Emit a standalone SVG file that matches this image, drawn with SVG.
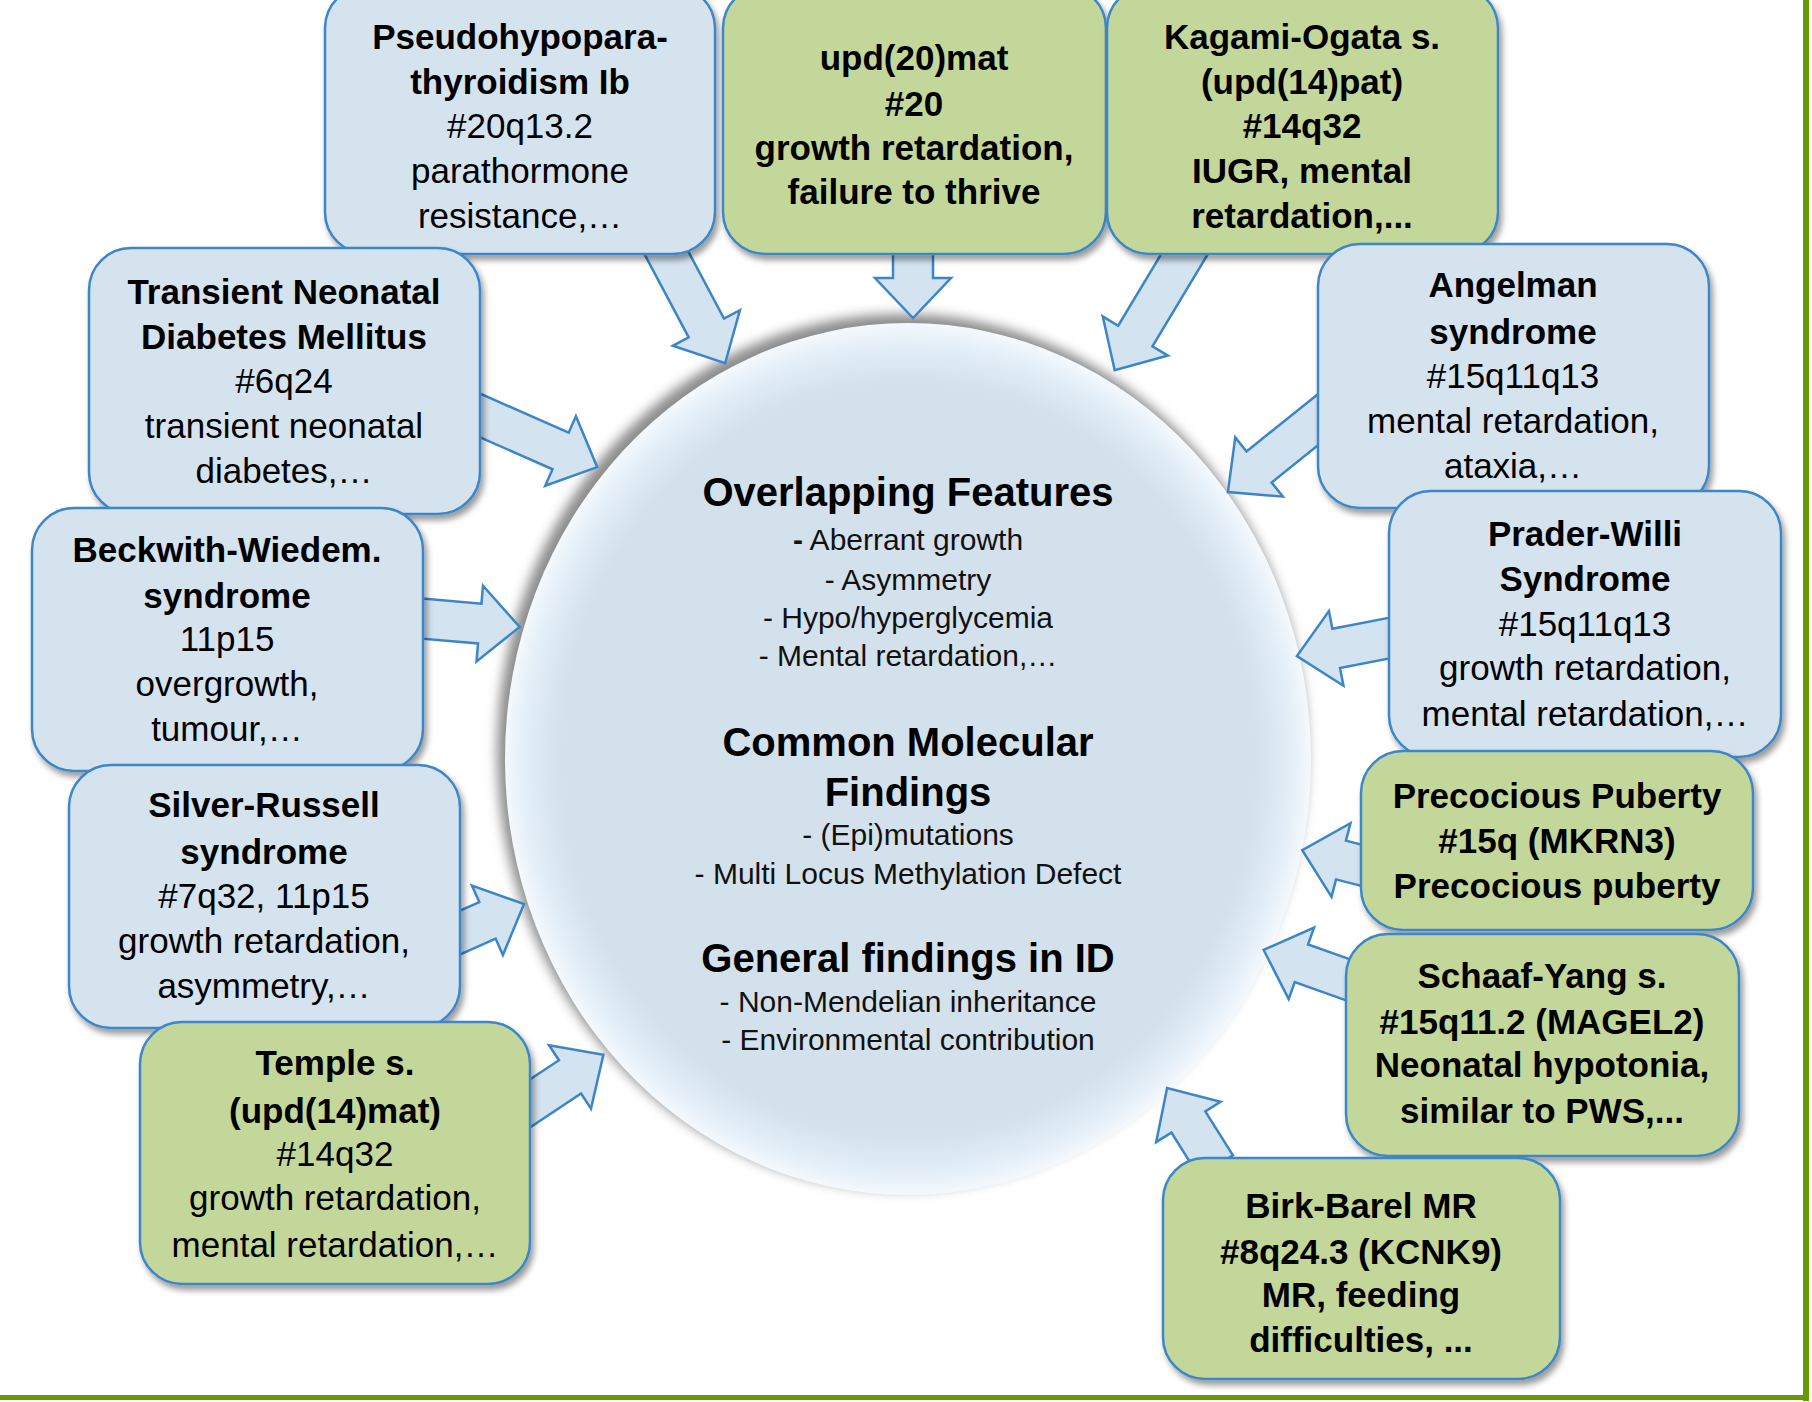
<svg xmlns="http://www.w3.org/2000/svg" width="1812" height="1402" viewBox="0 0 1812 1402">
<defs>
<style>
text{font-family:"Liberation Sans",Arial,sans-serif;font-size:35px;text-anchor:middle;fill:#000}
.b{font-weight:bold}
.ct{font-size:40px;font-weight:bold}
.cs{font-size:30px;fill:#111}
.nb{fill:#d5e3ef;stroke:#3c86c8;stroke-width:2.5}
.ng{fill:#c4d79b;stroke:#3c86c8;stroke-width:2.5}
.arr{fill:#d4e3f0;stroke:#3c86c8;stroke-width:2.5;stroke-linejoin:miter}
</style>
<filter id="sh" x="-10%" y="-10%" width="130%" height="130%">
<feGaussianBlur in="SourceAlpha" stdDeviation="3"/>
<feOffset dx="3" dy="5"/>
<feComponentTransfer><feFuncA type="linear" slope="0.4"/></feComponentTransfer>
<feMerge><feMergeNode/><feMergeNode in="SourceGraphic"/></feMerge>
</filter>
<filter id="cblur" x="-20%" y="-20%" width="140%" height="140%"><feGaussianBlur stdDeviation="6"/></filter>
<radialGradient id="cgrad" cx="50%" cy="50%" r="50%">
<stop offset="0" stop-color="#d3e1ec"/>
<stop offset="0.86" stop-color="#d3e1ec"/>
<stop offset="0.95" stop-color="#e3eef7"/>
<stop offset="1" stop-color="#f4f9fd"/>
</radialGradient>
</defs>
<rect width="1812" height="1402" fill="#fff"/>
<rect x="1803" y="0" width="6" height="1401" fill="#669900"/>
<rect x="0" y="1395" width="1809" height="5" fill="#669900"/>

<g id="center">
<ellipse cx="902" cy="752" rx="405" ry="438" fill="#666" opacity="0.75" filter="url(#cblur)"/>
<ellipse cx="908" cy="759" rx="403" ry="436" fill="url(#cgrad)"/>
<text class="ct" x="908" y="506">Overlapping Features</text>
<text class="cs" x="908" y="550"><tspan font-weight="bold">-</tspan> Aberrant growth</text>
<text class="cs" x="908" y="590">- Asymmetry</text>
<text class="cs" x="908" y="628">- Hypo/hyperglycemia</text>
<text class="cs" x="908" y="666">- Mental retardation,…</text>
<text class="ct" x="908" y="756">Common Molecular</text>
<text class="ct" x="908" y="806">Findings</text>
<text class="cs" x="908" y="845">- (Epi)mutations</text>
<text class="cs" x="908" y="884">- Multi Locus Methylation Defect</text>
<text class="ct" x="908" y="972">General findings in ID</text>
<text class="cs" x="908" y="1012">- Non-Mendelian inheritance</text>
<text class="cs" x="908" y="1050">- Environmental contribution</text>
</g>

<g id="connectors">
<path class="arr" transform="translate(658,237) rotate(62)" d="M0,-20 H103 V-38 L143,0 L103,38 V20 H0 Z"/>
<path class="arr" transform="translate(913,240) rotate(90)" d="M0,-20 H38 V-38 L78,0 L38,38 V20 H0 Z"/>
<path class="arr" transform="translate(1193,240) rotate(121)" d="M0,-20 H112 V-38 L152,0 L112,38 V20 H0 Z"/>
<path class="arr" transform="translate(470,411) rotate(23.8)" d="M0,-20 H99 V-38 L139,0 L99,38 V20 H0 Z"/>
<path class="arr" transform="translate(1330,410) rotate(141.2)" d="M0,-20 H91 V-38 L131,0 L91,38 V20 H0 Z"/>
<path class="arr" transform="translate(415,618) rotate(4.9)" d="M0,-20 H65 V-38 L105,0 L65,38 V20 H0 Z"/>
<path class="arr" transform="translate(450,937) rotate(-24)" d="M0,-20 H41 V-38 L81,0 L41,38 V20 H0 Z"/>
<path class="arr" transform="translate(520,1110) rotate(-33.5)" d="M0,-20 H60 V-38 L100,0 L60,38 V20 H0 Z"/>
<path class="arr" transform="translate(1400,636) rotate(169)" d="M0,-20 H65 V-38 L105,0 L65,38 V20 H0 Z"/>
<path class="arr" transform="translate(1372,868) rotate(-165.6)" d="M0,-20 H32 V-38 L72,0 L32,38 V20 H0 Z"/>
<path class="arr" transform="translate(1357,983) rotate(-160.5)" d="M0,-20 H59 V-38 L99,0 L59,38 V20 H0 Z"/>
<path class="arr" transform="translate(1216,1166) rotate(-122.1)" d="M0,-20 H52 V-38 L92,0 L52,38 V20 H0 Z"/>
</g>

<g id="pseudohypoparathyroidism">
<rect class="nb" x="325" y="-14" width="390" height="268" rx="42" filter="url(#sh)"/>
<text class="b" x="520" y="49">Pseudohypopara-</text>
<text class="b" x="520" y="94">thyroidism Ib</text>
<text x="520" y="138">#20q13.2</text>
<text x="520" y="183">parathormone</text>
<text x="520" y="228">resistance,…</text>
</g>
<g id="upd20mat">
<rect class="ng" x="723" y="-14" width="383" height="268" rx="42" filter="url(#sh)"/>
<text class="b" x="914" y="70">upd(20)mat</text>
<text class="b" x="914" y="116">#20</text>
<text class="b" x="914" y="160">growth retardation,</text>
<text class="b" x="914" y="204">failure to thrive</text>
</g>
<g id="kagami-ogata">
<rect class="ng" x="1107" y="-14" width="391" height="268" rx="42" filter="url(#sh)"/>
<text class="b" x="1302" y="49">Kagami-Ogata s.</text>
<text class="b" x="1302" y="94">(upd(14)pat)</text>
<text class="b" x="1302" y="138">#14q32</text>
<text class="b" x="1302" y="183">IUGR, mental</text>
<text class="b" x="1302" y="228">retardation,...</text>
</g>
<g id="transient-ndm">
<rect class="nb" x="89" y="248" width="391" height="266" rx="42" filter="url(#sh)"/>
<text class="b" x="284" y="304">Transient Neonatal</text>
<text class="b" x="284" y="349">Diabetes Mellitus</text>
<text x="284" y="393">#6q24</text>
<text x="284" y="438">transient neonatal</text>
<text x="284" y="483">diabetes,…</text>
</g>
<g id="angelman">
<rect class="nb" x="1318" y="244" width="391" height="264" rx="42" filter="url(#sh)"/>
<text class="b" x="1513" y="297">Angelman</text>
<text class="b" x="1513" y="344">syndrome</text>
<text x="1513" y="388">#15q11q13</text>
<text x="1513" y="433">mental retardation,</text>
<text x="1513" y="478">ataxia,…</text>
</g>
<g id="beckwith-wiedemann">
<rect class="nb" x="32" y="508" width="391" height="263" rx="42" filter="url(#sh)"/>
<text class="b" x="227" y="562">Beckwith-Wiedem.</text>
<text class="b" x="227" y="608">syndrome</text>
<text x="227" y="651">11p15</text>
<text x="227" y="696">overgrowth,</text>
<text x="227" y="741">tumour,…</text>
</g>
<g id="prader-willi">
<rect class="nb" x="1389" y="491" width="392" height="266" rx="42" filter="url(#sh)"/>
<text class="b" x="1585" y="546">Prader-Willi</text>
<text class="b" x="1585" y="591">Syndrome</text>
<text x="1585" y="636">#15q11q13</text>
<text x="1585" y="680">growth retardation,</text>
<text x="1585" y="726">mental retardation,…</text>
</g>
<g id="silver-russell">
<rect class="nb" x="69" y="765" width="391" height="263" rx="42" filter="url(#sh)"/>
<text class="b" x="264" y="817">Silver-Russell</text>
<text class="b" x="264" y="864">syndrome</text>
<text x="264" y="908">#7q32, 11p15</text>
<text x="264" y="953">growth retardation,</text>
<text x="264" y="998">asymmetry,…</text>
</g>
<g id="precocious-puberty">
<rect class="ng" x="1361" y="751" width="392" height="179" rx="42" filter="url(#sh)"/>
<text class="b" x="1557" y="808">Precocious Puberty</text>
<text class="b" x="1557" y="853">#15q (MKRN3)</text>
<text class="b" x="1557" y="898">Precocious puberty</text>
</g>
<g id="temple">
<rect class="ng" x="140" y="1022" width="390" height="262" rx="42" filter="url(#sh)"/>
<text class="b" x="335" y="1075">Temple s.</text>
<text class="b" x="335" y="1123">(upd(14)mat)</text>
<text x="335" y="1166">#14q32</text>
<text x="335" y="1210">growth retardation,</text>
<text x="335" y="1257">mental retardation,…</text>
</g>
<g id="schaaf-yang">
<rect class="ng" x="1346" y="934" width="393" height="222" rx="42" filter="url(#sh)"/>
<text class="b" x="1542" y="988">Schaaf-Yang s.</text>
<text class="b" x="1542" y="1034">#15q11.2 (MAGEL2)</text>
<text class="b" x="1542" y="1077">Neonatal hypotonia,</text>
<text class="b" x="1542" y="1123">similar to PWS,...</text>
</g>
<g id="birk-barel">
<rect class="ng" x="1163" y="1158" width="397" height="221" rx="42" filter="url(#sh)"/>
<text class="b" x="1361" y="1218">Birk-Barel MR</text>
<text class="b" x="1361" y="1264">#8q24.3 (KCNK9)</text>
<text class="b" x="1361" y="1307">MR, feeding</text>
<text class="b" x="1361" y="1352">difficulties, ...</text>
</g>
</svg>
